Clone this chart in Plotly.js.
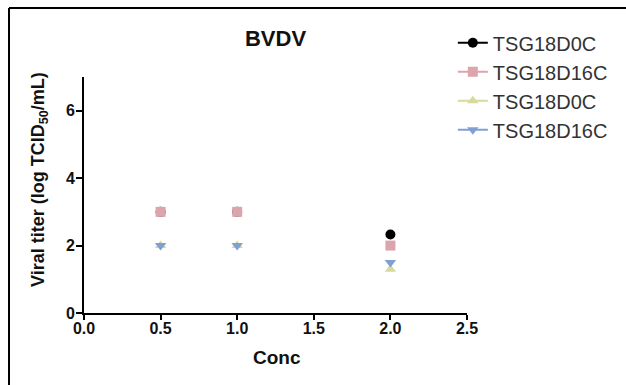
<!DOCTYPE html>
<html>
<head>
<meta charset="utf-8">
<script src="https://cdn.plot.ly/plotly-3.0.1.min.js"></script>
<style>
html,body{margin:0;padding:0;background:#fff;}
#chart{width:626px;height:385px;}
</style>
</head>
<body>
<div id="chart"></div>
<script>
// Data
const conc = [0.5, 1.0, 2.0];
const seriesNames = ["TSG18D0C", "TSG18D16C", "TSG18D0C", "TSG18D16C"];
const s1 = [3, 3, 2.33];   // black circles (hidden under squares at 0.5, 1.0)
const s2 = [3, 3, 2];      // pink squares
const s3 = [2, 2, 1.3];    // yellow up-triangles
const s4 = [2, 2, 1.5];    // blue down-triangles
const yTicks = [0, 2, 4, 6];
const xTicks = [0.0, 0.5, 1.0, 1.5, 2.0, 2.5];

const colors = ["#000000", "#dca4ac", "#d9d99c", "#7fa0d2"];
const symbols = ["circle", "square", "triangle-up", "triangle-down"];
const values = [s1, s2, s3, s4];

const FONT = "Liberation Sans, Arial, sans-serif";

const traces = values.map((v, i) => {
  // nulls between points so no connecting lines are drawn (line shows only in legend)
  const xs = [], ys = [];
  conc.forEach((xv, k) => { xs.push(xv); ys.push(v[k]); if (k < conc.length - 1) { xs.push(null); ys.push(null); } });
  return {
    x: xs, y: ys, name: seriesNames[i],
    type: "scatter", mode: "lines+markers", connectgaps: false,
    marker: {color: colors[i], symbol: symbols[i], size: 10},
    line: {color: colors[i], width: 2},
    legendgroup: "g" + i
  };
});

const axisFont = {family: FONT, size: 16, color: "#111", weight: "bold"};

const layout = {
  width: 626, height: 385,
  margin: {l: 84, r: 159, t: 77, b: 72, autoexpand: false},
  paper_bgcolor: "#fff", plot_bgcolor: "#fff",
  title: {
    text: "<b>BVDV</b>",
    font: {family: FONT, size: 22, color: "#111"},
    x: 0.5, xref: "paper", xanchor: "center",
    y: 37, yref: "container", yanchor: "middle"
  },
  xaxis: {
    range: [0, 2.5], tickvals: xTicks, ticktext: xTicks.map(v => v.toFixed(1)),
    showgrid: false, zeroline: false, showline: true, linecolor: "#000", linewidth: 2,
    ticks: "outside", ticklen: 5, tickwidth: 2, tickcolor: "#000",
    tickfont: axisFont, ticklabelstandoff: -5
  },
  yaxis: {
    range: [0, 7], tickvals: yTicks, ticktext: yTicks.map(v => String(v)),
    showgrid: false, zeroline: false, showline: true, linecolor: "#000", linewidth: 2,
    ticks: "outside", ticklen: 6, tickwidth: 2, tickcolor: "#000",
    tickfont: axisFont, ticklabelstandoff: -2
  },
  annotations: [
    {text: "<b>Conc</b>", xref: "paper", yref: "paper", x: 0.503, y: -0.19, xanchor: "center", yanchor: "middle",
     showarrow: false, font: {family: FONT, size: 19, color: "#111"}},
    {text: "<b>Viral titer (log TCID<sub>50</sub>/mL)</b>", xref: "paper", yref: "paper", x: -0.1149, y: 0.568,
     xanchor: "center", yanchor: "middle", textangle: -90,
     showarrow: false, font: {family: FONT, size: 18, color: "#111"}}
  ],
  legend: {
    x: 0.963, xanchor: "left", y: 1.228, yanchor: "top",
    font: {family: FONT, size: 20, color: "#333"},
    bgcolor: "rgba(0,0,0,0)", traceorder: "grouped", tracegroupgap: 0
  },
  showlegend: true,
  shapes: [
    {type: "line", xref: "paper", yref: "paper", x0: -0.1958, x1: 1.5, y0: 1.2925, y1: 1.2925, line: {color: "#000", width: 2}},
    {type: "line", xref: "paper", yref: "paper", x0: -0.1958, x1: -0.1958, y0: 1.2925, y1: -0.4, line: {color: "#000", width: 2}}
  ]
};

Plotly.newPlot("chart", traces, layout, {displayModeBar: false, staticPlot: true});
</script>
</body>
</html>
